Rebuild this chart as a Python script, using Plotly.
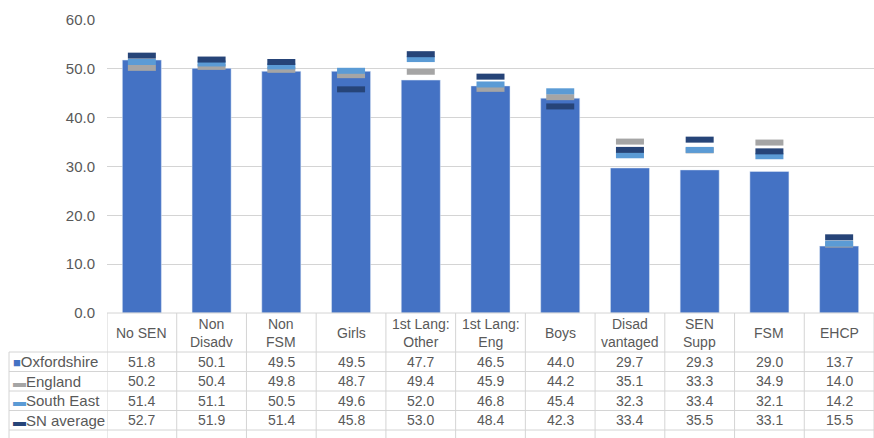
import plotly.graph_objects as go

categorias = ["No SEN", "Non<br>Disadv", "Non<br>FSM", "Girls", "1st Lang:<br>Other",
              "1st Lang:<br>Eng", "Boys", "Disad<br>vantaged", "SEN<br>Supp", "FSM", "EHCP"]
oxfordshire = [51.8, 50.1, 49.5, 49.5, 47.7, 46.5, 44.0, 29.7, 29.3, 29.0, 13.7]
england = [50.2, 50.4, 49.8, 48.7, 49.4, 45.9, 44.2, 35.1, 33.3, 34.9, 14.0]
south_east = [51.4, 51.1, 50.5, 49.6, 52.0, 46.8, 45.4, 32.3, 33.4, 32.1, 14.2]
sn_average = [52.7, 51.9, 51.4, 45.8, 53.0, 48.4, 42.3, 33.4, 35.5, 33.1, 15.5]

series = ["Oxfordshire", "England", "South East", "SN average"]
colores = ["#4472C4", "#A5A5A5", "#5B9BD5", "#264478"]
simbolos = ["■", "▬", "▬", "▬"]

W, H = 874, 438
GRIS = "#595959"
LINEA = "#D4D4D4"
FUENTE = "Liberation Sans, Arial"


def py(pix):
    # pixel from top -> paper coordinate
    return (H - pix) / H


y_tabla = 313        # top of data table == bottom of plot
y_cab = 352          # bottom of header row
alto_fila = 19.5
x_izq = 9            # left border of label column

fig = go.Figure()

fig.add_trace(go.Bar(
    x=categorias, y=oxfordshire,
    marker=dict(color=colores[0]),
    name=series[0], showlegend=False, hoverinfo="skip"
))

for nombre, valores, color in zip(series[1:], [england, south_east, sn_average], colores[1:]):
    fig.add_trace(go.Scatter(
        x=categorias, y=valores, mode="markers", name=nombre, showlegend=False,
        marker=dict(symbol="line-ew", size=20, line=dict(width=6, color=color)),
        hoverinfo="skip"
    ))

# --- data table under the chart ---
anotaciones = []
for cat in categorias:
    anotaciones.append(dict(
        x=cat, xref="x", y=py((y_tabla + y_cab) / 2), yref="paper", yanchor="middle",
        text=cat, showarrow=False, align="center",
        font=dict(family=FUENTE, size=14, color=GRIS)
    ))

filas = [oxfordshire, england, south_east, sn_average]
for j, (nombre, color, simbolo, valores) in enumerate(zip(series, colores, simbolos, filas)):
    yc = py(y_cab + alto_fila * (j + 0.5))
    anotaciones.append(dict(
        x=(x_izq + 2) / W, xref="paper", y=yc, yref="paper", xanchor="left", yanchor="middle",
        text=f"<span style='color:{color};font-size:13px'>{simbolo}</span>{nombre}",
        showarrow=False, font=dict(family=FUENTE, size=15, color=GRIS)
    ))
    for cat, v in zip(categorias, valores):
        anotaciones.append(dict(
            x=cat, xref="x", y=yc, yref="paper", yanchor="middle", text=f"{v:.1f}",
            showarrow=False, font=dict(family=FUENTE, size=14, color=GRIS)
        ))

formas = []
n = len(categorias)
# top of table (only under categories)
formas.append(dict(type="line", xref="x", yref="paper", x0=-0.5, x1=n - 0.5,
                   y0=py(y_tabla), y1=py(y_tabla), line=dict(color=LINEA, width=1)))
# row lines
for j in range(len(series) + 1):
    yy = py(y_cab + alto_fila * j)
    formas.append(dict(type="line", xref="paper", yref="paper", x0=x_izq / W, x1=1,
                       y0=yy, y1=yy, line=dict(color=LINEA, width=1)))
# column lines
for i in range(n + 1):
    formas.append(dict(type="line", xref="x", yref="paper", x0=i - 0.5, x1=i - 0.5,
                       y0=py(y_tabla), y1=0, line=dict(color=LINEA, width=1)))
formas.append(dict(type="line", xref="paper", yref="paper", x0=x_izq / W, x1=x_izq / W,
                   y0=py(y_cab), y1=0, line=dict(color=LINEA, width=1)))

fig.update_layout(
    width=W, height=H,
    margin=dict(l=0, r=0, t=0, b=0, pad=0),
    plot_bgcolor="white", paper_bgcolor="white",
    bargap=0.44,
    font=dict(family=FUENTE, size=14, color=GRIS),
    xaxis=dict(domain=[107 / W, 1], range=[-0.5, n - 0.5], showticklabels=False,
               showgrid=False, zeroline=False, showline=False, fixedrange=True,
               automargin=False),
    yaxis=dict(domain=[py(y_tabla), py(20)], range=[0, 60], dtick=10, tickformat=".1f",
               showgrid=True, gridcolor=LINEA, gridwidth=1, zeroline=False,
               showline=False, ticks="", ticklabelstandoff=11, automargin=False,
               fixedrange=True, tickfont=dict(family=FUENTE, size=15, color=GRIS)),
    annotations=anotaciones,
    shapes=formas,
)

# quitar el margen del body para que la figura ocupe toda la ventana
fig.write_html("out.html", config={"displayModeBar": False},
               post_script="document.body.style.margin='0';document.body.style.overflow='hidden';")
